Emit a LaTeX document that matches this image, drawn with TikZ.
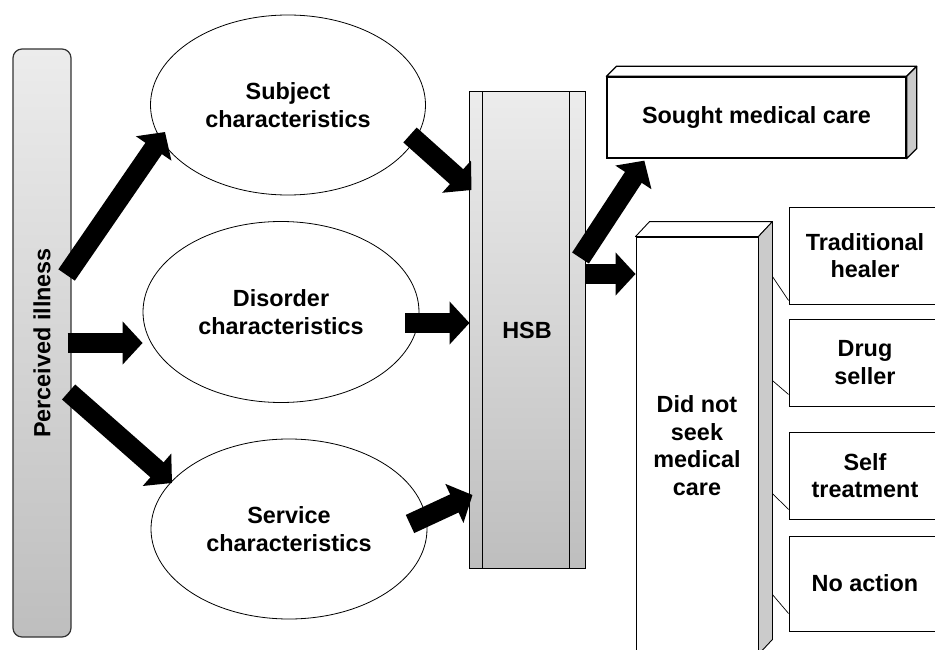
\documentclass[tikz,border=0pt]{standalone}
\usepackage{fontspec}
\setmainfont{Liberation Sans}
\usetikzlibrary{arrows.meta, shapes.geometric, calc, positioning}
\definecolor{shadeTop}{HTML}{ECECEC}
\definecolor{shadeBottom}{HTML}{BEBEBE}
\definecolor{sideGray}{HTML}{CBCBCB}
\tikzset{
  lbl/.style={font=\fontsize{23.4}{27.5}\selectfont\bfseries, align=center},
  oval/.style={ellipse, draw, line width=0.8pt, fill=white, lbl, inner sep=0pt},
  box/.style={rectangle, draw, line width=0.9pt, fill=white, lbl, inner sep=0pt},
  topface/.style={draw, line width=0.9pt, fill=white, line join=round},
  sideface/.style={draw, line width=0.9pt, fill=sideGray, line join=round},
  fat/.style={line width=20pt, -{Triangle[width=42pt,length=20pt]}}
}

\begin{document}
\begin{tikzpicture}[x=1pt, y=-1pt]
		\clip (0,0) rectangle (935,650);

		% left bar
		\node[draw=black!80, line width=1.2pt, rounded corners=9pt, minimum width=58pt, minimum height=588pt,
		      top color=shadeTop, bottom color=shadeBottom,
		      label={[lbl, rotate=90]center:Perceived illness}] (perc) at (42,343) {};

		% the three factors
		\node[oval, minimum width=275pt, minimum height=180pt] (subj) at (288,105) {Subject\\characteristics};
		\node[oval, minimum width=276pt, minimum height=181pt] (disd) at (281,312) {Disorder\\characteristics};
		\node[oval, minimum width=276pt, minimum height=180pt] (serv) at (289,529) {Service\\characteristics};

		% HSB column
		\node[draw, line width=1pt, minimum width=116pt, minimum height=476pt,
		      top color=shadeTop, bottom color=shadeBottom, lbl] (hsb) at (527,330) {HSB};
		\draw[line width=1pt] ([shift={(14,0)}]hsb.north west) -- ([shift={(14,0)}]hsb.south west);
		\draw[line width=1pt] ([shift={(-16,0)}]hsb.north east) -- ([shift={(-16,0)}]hsb.south east);

		% outcomes
		\node[box, line width=1.3pt, minimum width=299pt, minimum height=81pt] (sought) at (756.5,117.5) {Sought medical care};
		\draw[topface, line width=1.3pt] (sought.north west) -- ++(10,-10) -- ([shift={(10,-10)}]sought.north east) -- (sought.north east) -- cycle;
		\draw[sideface, line width=1.3pt] (sought.north east) -- ++(10,-10) -- ([shift={(10,-10)}]sought.south east) -- (sought.south east) -- cycle;

		\node[box, minimum width=122pt, minimum height=417pt] (notseek) at (697,445.5) {Did not\\seek\\medical\\care};
		\draw[topface] (notseek.north west) -- ++(14,-15) -- ([shift={(14,-15)}]notseek.north east) -- (notseek.north east) -- cycle;
		\draw[sideface] (notseek.north east) -- ++(14,-15) -- ([shift={(14,-15)}]notseek.south east) -- (notseek.south east) -- cycle;

		\node[box, minimum width=152pt, minimum height=97pt] (trad) at (865,255.5) {Traditional\\healer};
		\node[box, minimum width=152pt, minimum height=87pt] (drug) at (865,362.5) {Drug\\seller};
		\node[box, minimum width=152pt, minimum height=87pt] (self) at (865,475.5) {Self\\treatment};
		\node[box, minimum width=152pt, minimum height=95pt] (noact) at (865,583.5) {No action};

		\foreach \b/\s/\e in {trad/40/4, drug/144/12, self/257/10, noact/358/18}
		\draw[line width=0.7pt] ([shift={(14,\s)}]notseek.north east) -- ([shift={(0,-\e)}]\b.south west);

		% block arrows
		\draw[fat] ([shift={(-5,-68)}]perc.east) -- ([shift={(-123,27)}]subj.center);
		\coordinate (percmid) at ([shift={(-4,0)}]perc.east);
		\draw[fat] (percmid) -- (percmid -| disd.west);
		\draw[fat] ([shift={(-3,49)}]perc.east) -- ([shift={(-117,-46)}]serv.center);

		\draw[fat] ([shift={(122,30)}]subj.center) -- ([shift={(3,-140)}]hsb.west);
		\draw[fat] ([shift={(-14,11)}]disd.east) -- ([shift={(1,-7)}]hsb.west);
		\draw[fat] ([shift={(121,-5)}]serv.center) -- ([shift={(4,165)}]hsb.west);

		\draw[fat] ([shift={(-5,-72)}]hsb.east) -- ([shift={(38,2)}]sought.south west);
		\coordinate (hsbout) at ([shift={(0,-56)}]hsb.east);
		\draw[fat] (hsbout) -- (hsbout -| notseek.west);
	\end{tikzpicture}
\end{document}
